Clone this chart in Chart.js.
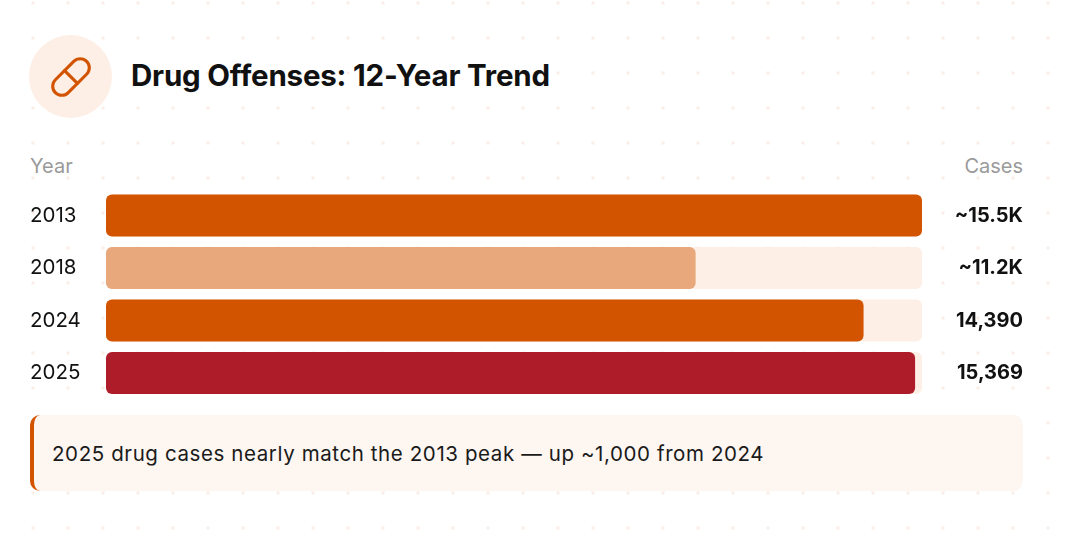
<!DOCTYPE html>
<html>
<head>
<meta charset="utf-8">
<script src="https://cdn.jsdelivr.net/npm/chart.js@4"></script>
<style>
  html, body { margin: 0; padding: 0; }
  body {
    width: 1065px; height: 535px; position: relative; overflow: hidden;
    font-family: Inter, "Noto Sans", sans-serif; color: #111;
    background-color: #fff;
    background-image: radial-gradient(circle, #fbeee9 1.4px, transparent 1.6px);
    background-size: 35px 35px;
    background-position: 15.5px -14.5px;
  }
  .icon {
    position: absolute; left: 29px; top: 35px; width: 83px; height: 83px;
    border-radius: 50%; background: #fdefe5;
    display: flex; align-items: center; justify-content: center;
  }
  .title {
    position: absolute; left: 131px; top: 57px; font-size: 29.5px; font-weight: 700;
    letter-spacing: -0.2px;
  }
  .head { position: absolute; top: 154px; font-size: 20px; color: #9a9a9a; }
  .callout {
    position: absolute; left: 30px; top: 415px; width: 993px; height: 76px;
    background: #fdf6f1; border-left: 4px solid #d35400; border-radius: 10px;
    box-sizing: border-box; padding-left: 18px; display: flex; align-items: center;
    font-size: 20.5px; letter-spacing: 0.6px; color: #1a1a1a;
  }
  #wrap { position: absolute; left: 30px; top: 176.5px; width: 993px; height: 234.5px; }
</style>
</head>
<body>
<div class="icon">
  <svg width="44" height="44" viewBox="0 0 24 24" fill="none" stroke="#d35400" stroke-width="1.7" stroke-linecap="round" stroke-linejoin="round">
    <path d="m10.5 20.5 10-10a4.95 4.95 0 1 0-7-7l-10 10a4.95 4.95 0 1 0 7 7Z"/>
    <path d="m8.5 8.5 7 7"/>
  </svg>
</div>
<div class="title">Drug Offenses: 12-Year Trend</div>
<div class="head" style="left:30px">Year</div>
<div class="head" style="right:42px">Cases</div>
<div id="wrap"><canvas id="chart"></canvas></div>
<div class="callout">2025 drug cases nearly match the 2013 peak — up ~1,000 from 2024</div>

<script>
// chart data
const years = ['2013', '2018', '2024', '2025'];
const cases = [15500, 11200, 14390, 15369];
const caseLabels = ['~15.5K', '~11.2K', '14,390', '15,369'];
const barColors = ['#d35400', '#e8a87c', '#d35400', '#ad1c28'];
const scaleMax = 15500;

const ctx = document.getElementById('chart').getContext('2d');
new Chart(ctx, {
  type: 'bar',
  data: {
    labels: years,
    datasets: [
      {
        // value bars
        data: cases,
        backgroundColor: barColors,
        borderRadius: 6,
        borderSkipped: false,
        grouped: false,
        order: 1,
        categoryPercentage: 1,
        barPercentage: 0.8
      },
      {
        // pale track behind each bar
        data: years.map(() => scaleMax),
        backgroundColor: '#fdefe5',
        borderRadius: 6,
        borderSkipped: false,
        grouped: false,
        order: 2,
        categoryPercentage: 1,
        barPercentage: 0.8
      }
    ]
  },
  options: {
    indexAxis: 'y',
    responsive: true,
    maintainAspectRatio: false,
    animation: false,
    layout: { padding: 0 },
    plugins: { legend: { display: false }, tooltip: { enabled: false } },
    scales: {
      x: { min: 0, max: scaleMax, display: false },
      y: {
        position: 'left',
        grid: { display: false },
        border: { display: false },
        ticks: {
          crossAlign: 'far',
          padding: 0,
          color: '#111',
          font: { family: 'Inter', size: 20.5 }
        },
        afterFit: (axis) => { axis.width = 76; }
      },
      y2: {
        type: 'category',
        labels: caseLabels,
        position: 'right',
        grid: { display: false },
        border: { display: false },
        ticks: {
          crossAlign: 'far',
          padding: 0,
          color: '#111',
          font: { family: 'Inter', size: 20, weight: '700' }
        },
        afterFit: (axis) => { axis.width = 101; }
      }
    }
  }
});
</script>
</body>
</html>
